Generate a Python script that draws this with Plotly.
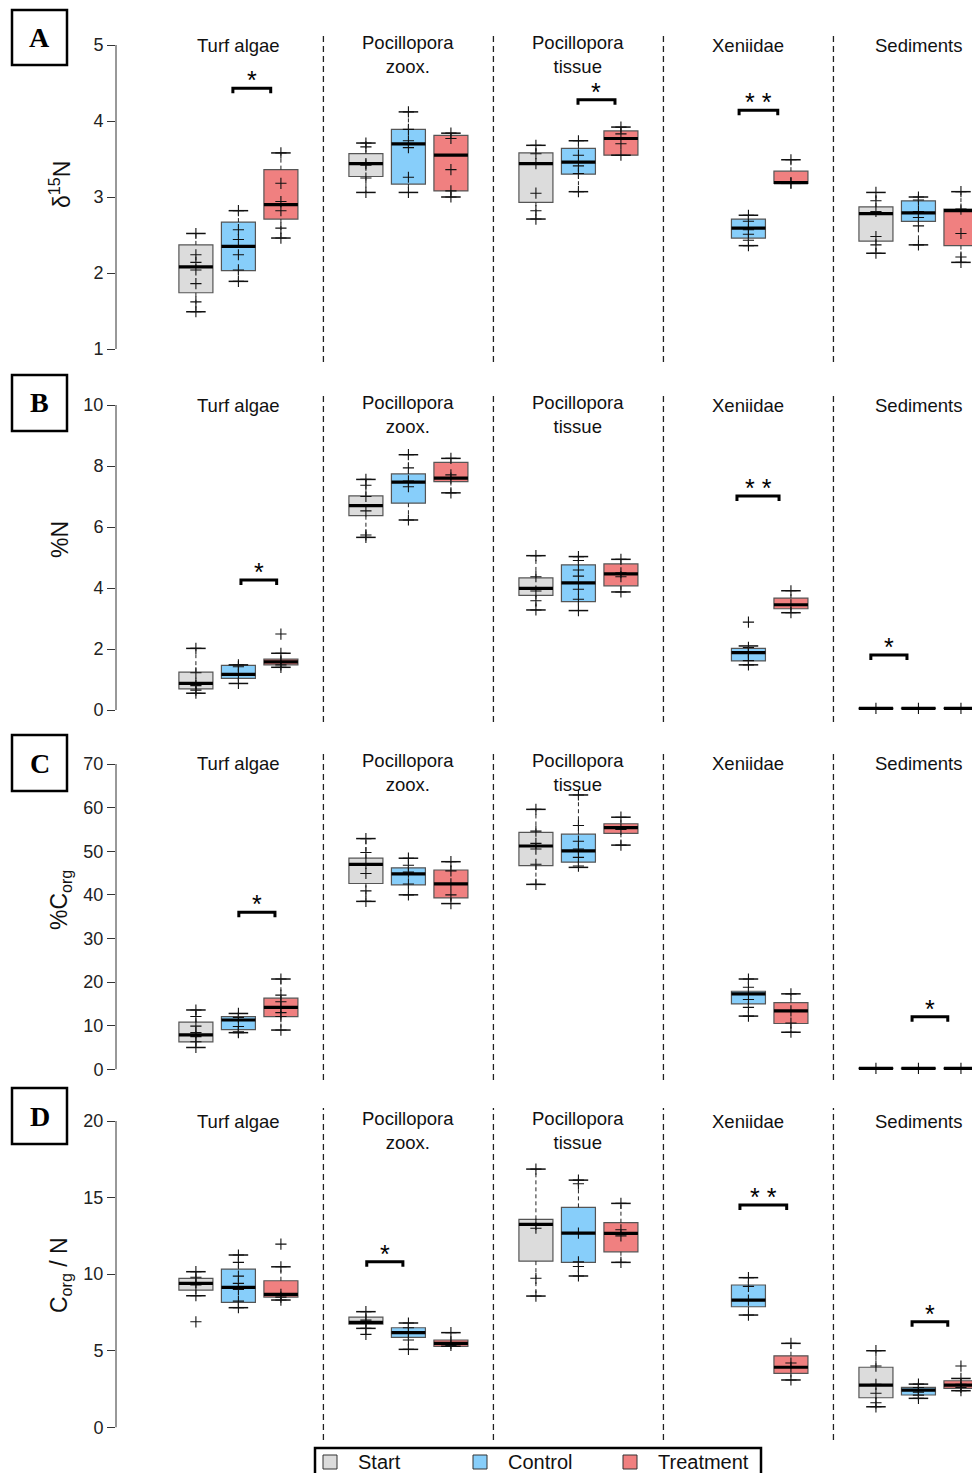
import plotly.graph_objects as go

# ---------------- data ----------------
SERIES = ["Start", "Control", "Treatment"]
GROUPS = ["Turf algae", "Pocillopora<br>zoox.", "Pocillopora<br>tissue", "Xeniidae", "Sediments"]
PANELS = ["A", "B", "C", "D"]
YLABELS = ["δ<sup>15</sup>N", "%N", "%C<sub>org</sub>", "C<sub>org</sub> / N"]
TICKS_A = [1, 2, 3, 4, 5]
TICKS_B = [0, 2, 4, 6, 8, 10]
TICKS_C = [0, 10, 20, 30, 40, 50, 60, 70]
TICKS_D = [0, 5, 10, 15, 20]

# box stats per group: (lower whisker, q1, median, q3, upper whisker); None = no data
A_START = [(1.49, 1.74, 2.08, 2.37, 2.52), (3.06, 3.27, 3.44, 3.57, 3.71), (2.71, 2.93, 3.44, 3.58, 3.68), None, (2.26, 2.42, 2.78, 2.87, 3.06)]
A_CONTROL = [(1.89, 2.03, 2.35, 2.67, 2.82), (3.06, 3.17, 3.70, 3.89, 4.12), (3.07, 3.30, 3.46, 3.64, 3.74), (2.36, 2.46, 2.59, 2.71, 2.76), (2.37, 2.68, 2.79, 2.95, 3.00)]
A_TREAT = [(2.46, 2.71, 2.90, 3.36, 3.58), (3.00, 3.08, 3.55, 3.81, 3.84), (3.55, 3.55, 3.77, 3.87, 3.92), (3.18, 3.18, 3.19, 3.34, 3.49), (2.14, 2.36, 2.82, 2.84, 3.07)]
A_START_PTS = [[2.52, 2.24, 2.14, 2.04, 1.86, 1.62, 1.49], [3.71, 3.66, 3.44, 3.42, 3.25, 3.06], [3.68, 3.57, 3.44, 3.05, 2.82, 2.71], [], [3.06, 2.95, 2.81, 2.48, 2.37, 2.26]]
A_CONTROL_PTS = [[2.82, 2.57, 2.44, 2.24, 2.04, 1.89], [4.12, 3.89, 3.74, 3.65, 3.26, 3.06], [3.74, 3.55, 3.41, 3.31, 3.07], [2.76, 2.68, 2.57, 2.51, 2.43, 2.36], [3.00, 2.96, 2.81, 2.73, 2.62, 2.37]]
A_TREAT_PTS = [[3.58, 3.18, 2.94, 2.82, 2.59, 2.46], [3.84, 3.77, 3.36, 3.08, 3.00], [3.92, 3.83, 3.70, 3.55], [3.49, 3.19, 3.18], [3.07, 2.84, 2.52, 2.21, 2.14]]

B_START = [(0.55, 0.69, 0.87, 1.24, 2.02), (5.66, 6.37, 6.70, 7.02, 7.56), (3.28, 3.76, 3.99, 4.33, 5.06), None, (0.03, 0.04, 0.05, 0.06, 0.07)]
B_CONTROL = [(0.87, 1.04, 1.17, 1.46, 1.48), (6.23, 6.78, 7.47, 7.74, 8.37), (3.26, 3.55, 4.17, 4.76, 5.03), (1.48, 1.61, 1.88, 2.02, 2.10), (0.04, 0.05, 0.05, 0.06, 0.06)]
B_TREAT = [(1.40, 1.48, 1.58, 1.67, 1.86), (7.12, 7.49, 7.60, 8.12, 8.25), (3.87, 4.07, 4.46, 4.79, 4.94), (3.19, 3.32, 3.45, 3.67, 3.91), (0.04, 0.05, 0.05, 0.06, 0.06)]
B_START_PTS = [[2.02, 1.22, 0.87, 0.80, 0.65, 0.55], [7.56, 7.37, 7.00, 6.53, 5.74, 5.66], [5.06, 4.37, 3.90, 3.58, 3.28], [], [0.05]]
B_CONTROL_PTS = [[1.48, 1.42, 1.15, 0.87], [8.37, 7.94, 7.51, 7.32, 6.23], [5.03, 4.90, 4.59, 4.39, 3.96, 3.63, 3.26], [2.88, 2.05, 1.90, 1.85, 1.62, 1.48], [0.05]]
B_TREAT_PTS = [[2.49, 1.86, 1.58, 1.48, 1.40], [8.25, 7.71, 7.60, 7.12], [4.94, 4.50, 4.37, 3.87], [3.91, 3.45, 3.19], [0.05]]

C_START = [(5.0, 6.3, 7.9, 10.8, 13.6), (38.5, 42.6, 47.0, 48.4, 52.9), (42.4, 46.7, 51.2, 54.3, 59.6), None, (0.1, 0.15, 0.2, 0.25, 0.3)]
C_CONTROL = [(8.4, 9.1, 11.3, 12.1, 12.8), (40.0, 42.3, 44.8, 46.2, 48.4), (46.3, 47.5, 50.1, 53.9, 62.9), (12.2, 15.0, 17.3, 17.9, 20.7), (0.1, 0.15, 0.2, 0.25, 0.3)]
C_TREAT = [(9.0, 12.1, 14.2, 16.3, 20.7), (38.0, 39.3, 42.5, 45.7, 47.6), (51.4, 54.1, 55.4, 56.3, 57.8), (8.5, 10.5, 13.4, 15.3, 17.3), (0.1, 0.15, 0.2, 0.25, 0.3)]
C_START_PTS = [[13.6, 12.1, 9.9, 8.4, 7.5, 6.3, 5.0], [52.9, 49.7, 47.2, 44.9, 40.9, 38.5], [59.6, 54.6, 51.8, 50.5, 47.0, 42.4], [], [0.2]]
C_CONTROL_PTS = [[12.8, 11.9, 9.8, 8.6, 8.4], [48.4, 46.8, 45.2, 42.5, 40.0], [62.9, 55.9, 52.3, 50.5, 48.6, 46.6], [20.7, 18.8, 16.0, 14.2, 12.2], [0.2]]
C_TREAT_PTS = [[20.7, 17.0, 15.5, 14.2, 13.0, 12.1, 9.0], [47.6, 45.5, 42.5, 40.0, 38.0], [57.8, 55.0, 51.4], [17.3, 13.4, 10.6, 8.5], [0.2]]

D_START = [(8.59, 8.96, 9.40, 9.72, 10.16), (6.46, 6.74, 6.85, 7.20, 7.55), (8.57, 10.85, 13.25, 13.58, 16.86), None, (1.34, 1.93, 2.76, 3.92, 5.0)]
D_CONTROL = [(7.81, 8.16, 9.14, 10.33, 11.25), (5.09, 5.87, 6.18, 6.50, 6.81), (9.88, 10.77, 12.68, 14.36, 16.14), (7.33, 7.87, 8.31, 9.29, 9.77), (1.89, 2.11, 2.43, 2.61, 2.82)]
D_TREAT = [(8.31, 8.50, 8.68, 9.57, 10.48), (5.29, 5.29, 5.48, 5.70, 6.18), (10.77, 11.46, 12.66, 13.36, 14.62), (3.09, 3.52, 3.92, 4.67, 5.48), (2.39, 2.54, 2.76, 3.04, 3.19)]
D_START_PTS = [[10.16, 9.8, 9.45, 9.3, 8.59, 6.89], [7.55, 7.0, 6.85, 6.46, 6.07], [16.86, 13.25, 13.0, 9.73, 8.57], [], [5.0, 4.0, 2.8, 2.22, 1.6, 1.34]]
D_CONTROL_PTS = [[11.25, 10.77, 9.87, 9.4, 9.0, 8.24, 7.81], [6.81, 6.50, 6.18, 5.70, 5.09], [16.14, 15.9, 12.68, 10.8, 10.5, 9.88], [9.77, 9.2, 8.3, 7.33], [2.82, 2.6, 2.43, 2.3, 2.1, 1.89]]
D_TREAT_PTS = [[11.96, 10.48, 8.68, 8.5, 8.31], [6.18, 5.48, 5.35], [14.62, 12.9, 12.5, 10.77], [5.48, 3.92, 4.2, 3.09], [4.0, 3.19, 2.8, 2.6, 2.39]]

# significance brackets: (x from, x to, height, label)
SIG_A = [(0.87, 1.76, 4.43, "*"), (8.99, 9.86, 4.28, "*"), (12.78, 13.69, 4.14, "* *")]
SIG_B = [(1.06, 1.90, 4.26, "*"), (12.73, 13.72, 7.02, "* *"), (15.88, 16.73, 1.80, "*")]
SIG_C = [(1.01, 1.86, 36.0, "*"), (16.85, 17.69, 12.06, "*")]
SIG_D = [(4.02, 4.87, 10.81, "*"), (12.80, 13.90, 14.51, "* *"), (16.85, 17.69, 6.89, "*")]

# ---------------- styling / layout ----------------
W, H = 972, 1473
COLORS = {"Start": "#DCDCDC", "Control": "#87CEFA", "Treatment": "#F08080"}
FONT = "Liberation Sans, Arial, sans-serif"
X_LEFT_PX = 116
X_RANGE = [-1.88, 18.26]
BOX_W = 0.8

panel_stats = {
    "A": (A_START, A_CONTROL, A_TREAT), "B": (B_START, B_CONTROL, B_TREAT),
    "C": (C_START, C_CONTROL, C_TREAT), "D": (D_START, D_CONTROL, D_TREAT)}
panel_pts = {
    "A": (A_START_PTS, A_CONTROL_PTS, A_TREAT_PTS), "B": (B_START_PTS, B_CONTROL_PTS, B_TREAT_PTS),
    "C": (C_START_PTS, C_CONTROL_PTS, C_TREAT_PTS), "D": (D_START_PTS, D_CONTROL_PTS, D_TREAT_PTS)}
panel_ticks = {"A": TICKS_A, "B": TICKS_B, "C": TICKS_C, "D": TICKS_D}
panel_sig = {"A": SIG_A, "B": SIG_B, "C": SIG_C, "D": SIG_D}
# pixel geometry: (plot top px, plot bottom px, px of top tick, px of bottom tick)
panel_px = {"A": (32, 362, 45, 349), "B": (393, 722, 405, 710),
            "C": (752, 1080, 764, 1069.3), "D": (1108, 1440, 1121, 1427.3)}
title_px = {"A": 45, "B": 405, "C": 763, "D": 1121}
box_px = {"A": (10, 65), "B": (375, 431), "C": (735, 791), "D": (1088, 1144)}
ylab_px = {"A": 185, "B": 540, "C": 900, "D": 1275}


def py(px):
    return 1 - px / H


def px_x(px):
    return px / W


fig = go.Figure()
shapes = []
annotations = []
layout_axes = {}

for pi, p in enumerate(PANELS):
    n = "" if pi == 0 else str(pi + 1)
    xa, ya = "x" + n, "y" + n
    ticks = panel_ticks[p]
    top, bot, ttop, tbot = panel_px[p]
    ppu = (tbot - ttop) / (ticks[-1] - ticks[0])
    ymin = ticks[0] - (bot - tbot) / ppu
    ymax = ticks[-1] + (ttop - top) / ppu

    layout_axes["xaxis" + n] = dict(domain=[X_LEFT_PX / W, 1], range=X_RANGE, visible=False,
                                    anchor=ya, fixedrange=True)
    layout_axes["yaxis" + n] = dict(domain=[py(bot), py(top)], range=[ymin, ymax], anchor=xa,
                                    tickvals=ticks, ticks="outside", ticklen=8, tickwidth=1,
                                    tickcolor="#333", showline=False, showgrid=False, zeroline=False,
                                    fixedrange=True,
                                    tickfont=dict(family=FONT, size=18, color="#222"))

    whisk_x, whisk_y, cap_x, cap_y, med_x, med_y = [], [], [], [], [], []
    for si, s in enumerate(SERIES):
        stats = panel_stats[p][si]
        pts = panel_pts[p][si]
        xs, q1, med, q3 = [], [], [], []
        px_pts, py_pts = [], []
        for gi, st in enumerate(stats):
            if st is None:
                continue
            pos = gi * 4 + si
            lo, a, m, b, hi = st
            xs.append(pos); q1.append(a); med.append(m); q3.append(b)
            whisk_x += [pos, pos, None, pos, pos, None]
            whisk_y += [b, hi, None, a, lo, None]
            cap_x += [pos - 0.23, pos + 0.23, None, pos - 0.23, pos + 0.23, None]
            cap_y += [hi, hi, None, lo, lo, None]
            med_x += [pos - BOX_W / 2, pos + BOX_W / 2, None]
            med_y += [m, m, None]
            for v in pts[gi]:
                px_pts.append(pos); py_pts.append(v)
        fig.add_trace(go.Box(x=xs, q1=q1, median=med, q3=q3, lowerfence=q1, upperfence=q3,
                             width=BOX_W, whiskerwidth=0, fillcolor=COLORS[s],
                             line=dict(color="#555", width=1.2), boxpoints=False,
                             name=s, xaxis=xa, yaxis=ya, hoverinfo="skip"))
        fig.add_trace(go.Scatter(x=px_pts, y=py_pts, mode="markers", xaxis=xa, yaxis=ya,
                                 marker=dict(symbol="cross-thin", size=8,
                                             line=dict(width=1.1, color="#111")),
                                 hoverinfo="skip"))
    fig.add_trace(go.Scatter(x=whisk_x, y=whisk_y, mode="lines", xaxis=xa, yaxis=ya,
                             line=dict(color="#222", width=1, dash="4px,3px"), hoverinfo="skip"))
    fig.add_trace(go.Scatter(x=cap_x, y=cap_y, mode="lines", xaxis=xa, yaxis=ya,
                             line=dict(color="#111", width=1.5), hoverinfo="skip"))
    fig.add_trace(go.Scatter(x=med_x, y=med_y, mode="lines", xaxis=xa, yaxis=ya,
                             line=dict(color="black", width=3.2), hoverinfo="skip"))

    # y axis line between outer ticks
    shapes.append(dict(type="line", xref=xa + " domain", x0=0, x1=0, yref=ya,
                       y0=ticks[0], y1=ticks[-1], line=dict(color="#333", width=1)))
    # group separators
    for sx in [3, 7, 11, 15]:
        shapes.append(dict(type="line", xref=xa, x0=sx, x1=sx, yref=ya + " domain", y0=0, y1=1,
                           line=dict(color="#222", width=1.3, dash="6px,4px"), layer="below"))
    # group titles
    for gi, g in enumerate(GROUPS):
        two = "<br>" in g
        cy = title_px[p] - (3 if two else 0)
        annotations.append(dict(x=gi * 4 + 1, xref=xa, y=py(cy - 12), yref="paper",
                                yanchor="top", text=g, showarrow=False,
                                font=dict(family=FONT, size=18.5, color="#111")))
    # significance brackets
    leg = 5 / ppu
    for (x0, x1, yv, lab) in panel_sig[p]:
        shapes.append(dict(type="path", xref=xa, yref=ya,
                           path=f"M {x0},{yv - leg} L {x0},{yv} L {x1},{yv} L {x1},{yv - leg}",
                           line=dict(color="black", width=3)))
        annotations.append(dict(x=(x0 + x1) / 2, xref=xa, y=yv, yref=ya, yanchor="bottom",
                                yshift=-8, text=lab, showarrow=False,
                                font=dict(family=FONT, size=25, color="black")))
    # panel letter box
    b0, b1 = box_px[p]
    shapes.append(dict(type="rect", xref="paper", yref="paper", x0=px_x(12), x1=px_x(67),
                       y0=py(b1), y1=py(b0), line=dict(color="black", width=2.5)))
    annotations.append(dict(x=px_x(39.5), y=py((b0 + b1) / 2), xref="paper", yref="paper",
                            text=f"<b>{p}</b>", showarrow=False, xanchor="center", yanchor="middle",
                            font=dict(family="Liberation Serif, Times New Roman, serif", size=28,
                                      color="black")))
    # y axis title
    annotations.append(dict(x=px_x(60), y=py(ylab_px[p]), xref="paper", yref="paper",
                            text=YLABELS[pi], textangle=-90, showarrow=False,
                            xanchor="center", yanchor="middle",
                            font=dict(family=FONT, size=23, color="#111")))

# legend (bottom)
shapes.append(dict(type="rect", xref="paper", yref="paper", x0=px_x(315), x1=px_x(761),
                   y0=py(1485), y1=py(1448), line=dict(color="black", width=2.5)))
for si, s in enumerate(SERIES):
    sx = 323 + si * 150
    shapes.append(dict(type="rect", xref="paper", yref="paper", x0=px_x(sx), x1=px_x(sx + 14),
                       y0=py(1469), y1=py(1455), fillcolor=COLORS[s],
                       line=dict(color="#333", width=1)))
    annotations.append(dict(x=px_x(sx + 33), y=py(1462), xref="paper", yref="paper",
                            text=s, showarrow=False, xanchor="left", yanchor="middle",
                            font=dict(family=FONT, size=20, color="#111")))

fig.update_layout(width=W, height=H, margin=dict(l=0, r=0, t=0, b=0),
                  plot_bgcolor="white", paper_bgcolor="white", showlegend=False,
                  boxmode="overlay", shapes=shapes, annotations=annotations, **layout_axes)

fig.write_html("out.html", config={"displayModeBar": False},
               post_script="document.body.style.margin='0';document.body.style.overflow='hidden';")
